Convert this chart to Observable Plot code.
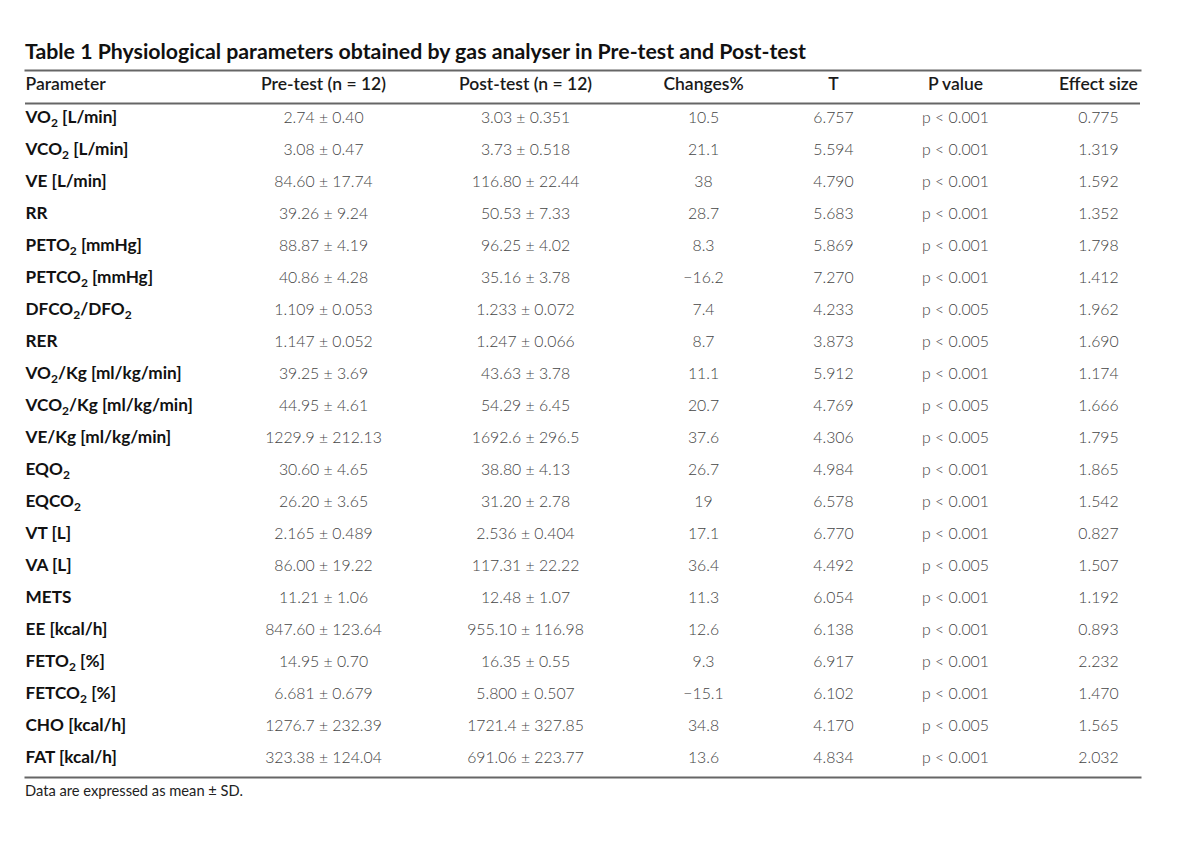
<!DOCTYPE html>
<html>
<head>
<meta charset="utf-8">
<script src="https://cdn.jsdelivr.net/npm/d3@7"></script>
<script src="https://cdn.jsdelivr.net/npm/@observablehq/plot@0.6"></script>
<style>
  body { margin: 0; background: #fff; }
  #title { font-family: Lato, "Open Sans", sans-serif; font-weight: bold; font-size: 21.3px; color: #111;
           padding: 39px 0 0 25px; line-height: 25px; height: 27px; box-sizing: content-box; white-space: nowrap; }
  #chart svg { display: block; }
  #caption { font-family: Lato, "Open Sans", sans-serif; font-size: 14.7px; color: #222; padding-left: 25px; line-height: 17px; }
</style>
</head>
<body>
<div id="title">Table 1 Physiological parameters obtained by gas analyser in Pre-test and Post-test</div>
<div id="chart"></div>
<div id="caption">Data are expressed as mean ± SD.</div>
<script>
const columns = ["Parameter", "Pre-test (n = 12)", "Post-test (n = 12)", "Changes%", "T", "P value", "Effect size"];

const params = [
  "VO₂ [L/min]", "VCO₂ [L/min]", "VE [L/min]", "RR", "PETO₂ [mmHg]", "PETCO₂ [mmHg]",
  "DFCO₂/DFO₂", "RER", "VO₂/Kg [ml/kg/min]", "VCO₂/Kg [ml/kg/min]", "VE/Kg [ml/kg/min]",
  "EQO₂", "EQCO₂", "VT [L]", "VA [L]", "METS", "EE [kcal/h]", "FETO₂ [%]", "FETCO₂ [%]",
  "CHO [kcal/h]", "FAT [kcal/h]"
];

const preTest = [
  "2.74 ± 0.40", "3.08 ± 0.47", "84.60 ± 17.74", "39.26 ± 9.24", "88.87 ± 4.19", "40.86 ± 4.28",
  "1.109 ± 0.053", "1.147 ± 0.052", "39.25 ± 3.69", "44.95 ± 4.61", "1229.9 ± 212.13",
  "30.60 ± 4.65", "26.20 ± 3.65", "2.165 ± 0.489", "86.00 ± 19.22", "11.21 ± 1.06",
  "847.60 ± 123.64", "14.95 ± 0.70", "6.681 ± 0.679", "1276.7 ± 232.39", "323.38 ± 124.04"
];

const postTest = [
  "3.03 ± 0.351", "3.73 ± 0.518", "116.80 ± 22.44", "50.53 ± 7.33", "96.25 ± 4.02", "35.16 ± 3.78",
  "1.233 ± 0.072", "1.247 ± 0.066", "43.63 ± 3.78", "54.29 ± 6.45", "1692.6 ± 296.5",
  "38.80 ± 4.13", "31.20 ± 2.78", "2.536 ± 0.404", "117.31 ± 22.22", "12.48 ± 1.07",
  "955.10 ± 116.98", "16.35 ± 0.55", "5.800 ± 0.507", "1721.4 ± 327.85", "691.06 ± 223.77"
];

const changes = ["10.5", "21.1", "38", "28.7", "8.3", "−16.2", "7.4", "8.7", "11.1", "20.7", "37.6",
  "26.7", "19", "17.1", "36.4", "11.3", "12.6", "9.3", "−15.1", "34.8", "13.6"];

const tValues = ["6.757", "5.594", "4.790", "5.683", "5.869", "7.270", "4.233", "3.873", "5.912", "4.769",
  "4.306", "4.984", "6.578", "6.770", "4.492", "6.054", "6.138", "6.917", "6.102", "4.170", "4.834"];

const pValues = ["p < 0.001", "p < 0.001", "p < 0.001", "p < 0.001", "p < 0.001", "p < 0.001",
  "p < 0.005", "p < 0.005", "p < 0.001", "p < 0.005", "p < 0.005", "p < 0.001", "p < 0.001",
  "p < 0.001", "p < 0.005", "p < 0.001", "p < 0.001", "p < 0.001", "p < 0.001", "p < 0.005", "p < 0.001"];

const effectSize = ["0.775", "1.319", "1.592", "1.352", "1.798", "1.412", "1.962", "1.690", "1.174", "1.666",
  "1.795", "1.865", "1.542", "0.827", "1.507", "1.192", "0.893", "2.232", "1.470", "1.565", "2.032"];

// Build a long table of cells (column index, row label, text)
const valueColumns = [preTest, postTest, changes, tValues, pValues, effectSize];
const cells = [];
valueColumns.forEach((col, ci) => col.forEach((text, ri) => cells.push({col: ci + 1, row: params[ri], text})));
const headerCells = columns.map((text, i) => ({col: i, text}));

const FONT = "Lato, 'Open Sans', sans-serif";

const plot = Plot.plot({
  width: 1200,
  height: 716,
  marginTop: 4,
  marginBottom: 5,
  marginLeft: 25,
  marginRight: 60,
  style: {fontFamily: FONT, background: "#fff"},
  x: {type: "linear", domain: [0, 1, 2, 3, 4, 5, 6], range: [25, 323, 525, 703, 833, 955, 1098], axis: null},
  y: {type: "point", domain: params, range: [47, 695], padding: 0, axis: null},
  marks: [
    Plot.frame({anchor: "top", stroke: "#666", strokeWidth: 2}),
    Plot.frame({anchor: "bottom", stroke: "#666", strokeWidth: 2}),
    Plot.ruleY([params[0]], {dy: -14, stroke: "#666", strokeWidth: 2}),
    // header
    Plot.text(headerCells.slice(0, 1), {x: "col", text: "text", frameAnchor: "top", lineAnchor: "middle", dy: 14,
      textAnchor: "start", fontSize: 17.5, fontWeight: 600, fill: "#1a1a1a"}),
    Plot.text(headerCells.slice(1), {x: "col", text: "text", frameAnchor: "top", lineAnchor: "middle", dy: 14,
      textAnchor: "middle", fontSize: 17.5, fontWeight: 600, fill: "#1a1a1a"}),
    // parameter names
    Plot.text(params, {x: 0, y: d => d, text: d => d, textAnchor: "start",
      fontSize: 17.2, fontWeight: "bold", fill: "#111"}),
    // values
    Plot.text(cells, {x: "col", y: "row", text: "text", textAnchor: "middle",
      fontSize: 15.8, fontWeight: 300, fill: "#444"})
  ]
});

// Render subscript ₂ as a lowered small "2" (shift in px so it returns to the same baseline)
plot.querySelectorAll("text").forEach(t => {
  const s = t.textContent;
  if (!s.includes("₂")) return;
  t.textContent = "";
  let lowered = false;
  s.split(/(₂)/).forEach(part => {
    if (!part) return;
    const ts = document.createElementNS("http://www.w3.org/2000/svg", "tspan");
    if (part === "₂") {
      ts.textContent = "2";
      ts.setAttribute("font-size", "12px");
      ts.setAttribute("dy", "4px");
      lowered = true;
    } else {
      ts.textContent = part;
      if (lowered) { ts.setAttribute("dy", "-4px"); lowered = false; }
    }
    t.appendChild(ts);
  });
});

document.getElementById("chart").appendChild(plot);
</script>
</body>
</html>
